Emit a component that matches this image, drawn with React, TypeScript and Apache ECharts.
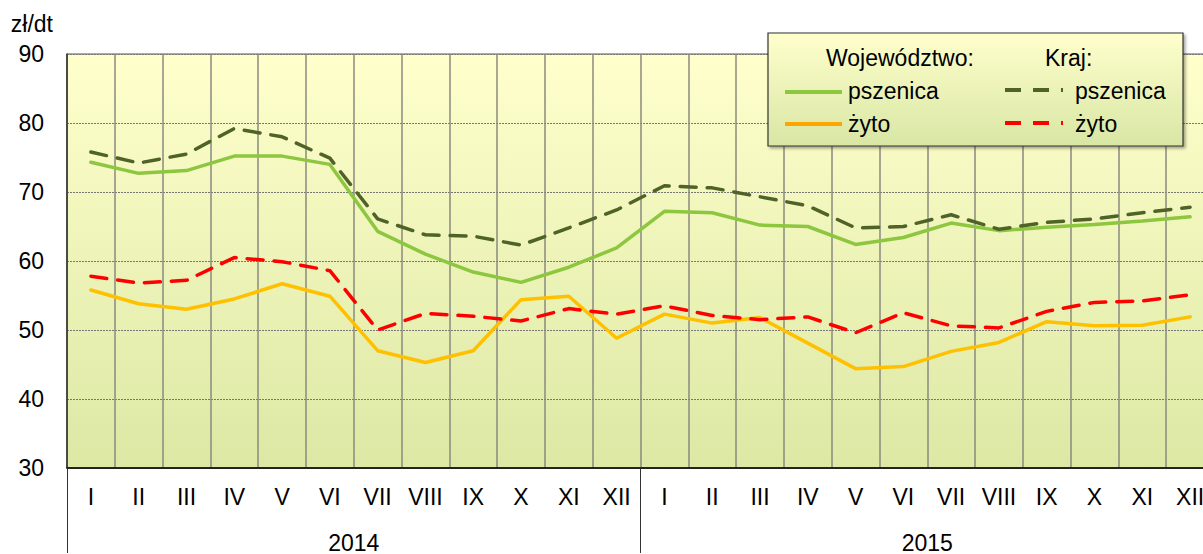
import React, { useEffect, useRef } from "react";
import * as echarts from "echarts";

const months = ["I", "II", "III", "IV", "V", "VI", "VII", "VIII", "IX", "X", "XI", "XII"];
const categories = [...months, ...months];
const years = ["2014", "2015"];
const yTicks = { min: 30, max: 90, interval: 10 };

const wojPszenica = [74.3, 72.7, 73.1, 75.2, 75.2, 74.0, 64.3, 61.0, 58.4, 56.9, 59.1, 61.9,
  67.2, 67.0, 65.2, 65.0, 62.4, 63.4, 65.5, 64.4, 64.9, 65.3, 65.8, 66.4];
const wojZyto = [55.8, 53.8, 53.0, 54.5, 56.7, 54.9, 47.0, 45.3, 47.0, 54.4, 54.9, 48.8,
  52.3, 51.0, 51.8, 48.1, 44.4, 44.7, 46.9, 48.2, 51.2, 50.6, 50.7, 51.9];
const krajPszenica = [75.8, 74.2, 75.5, 79.2, 78.0, 74.9, 66.1, 63.8, 63.6, 62.3, 64.8, 67.4,
  70.9, 70.6, 69.3, 68.0, 64.8, 65.0, 66.7, 64.6, 65.6, 66.1, 67.0, 67.8];
const krajZyto = [57.8, 56.8, 57.2, 60.5, 59.9, 58.6, 50.0, 52.4, 52.0, 51.3, 53.1, 52.3,
  53.5, 52.1, 51.5, 51.9, 49.6, 52.5, 50.6, 50.3, 52.7, 54.0, 54.2, 55.1];

const FONT = "Liberation Sans, Arial, sans-serif";
const C_GREEN = "#8DC63F";
const C_ORANGE = "#FFC000";
const C_DKGREEN = "#4F6228";
const C_RED = "#FF0000";
const DASH = [16, 11];

export default function App() {
  const ref = useRef<HTMLDivElement>(null);
  useEffect(() => {
    if (!ref.current) return;
    const chart = echarts.init(ref.current, undefined, { renderer: "svg" });
    const bgGrad = new echarts.graphic.LinearGradient(0, 0, 0, 1, [
      { offset: 0, color: "#FFFFCC" },
      { offset: 1, color: "#DCE8A4" },
    ]);
    const legGrad = new echarts.graphic.LinearGradient(0, 0, 0, 1, [
      { offset: 0, color: "#FFFFCC" },
      { offset: 1, color: "#D8E6A4" },
    ]);
    const txt = (x: number, y: number, text: string) => ({
      type: "text", x, y, z: 101,
      style: { text, font: `23px ${FONT}`, fill: "#000", textVerticalAlign: "middle", verticalAlign: "middle" },
    });
    const ln = (x1: number, x2: number, y: number, color: string, dash?: number[]) => ({
      type: "line", z: 101,
      shape: { x1, y1: y, x2, y2: y },
      style: { stroke: color, lineWidth: 4, lineDash: dash },
    });
    const line = (name: string, data: number[], color: string, dashed: boolean) => ({
      name, type: "line", data, symbol: "none", smooth: false,
      lineStyle: { color, width: 3.5, type: dashed ? DASH : "solid", cap: "round" },
      z: dashed ? 4 : 3,
    });
    chart.setOption({
      animation: false,
      grid: {
        left: 67, top: 54, width: 1147, height: 419, show: true,
        backgroundColor: bgGrad, borderColor: "#555", borderWidth: 1,
      },
      xAxis: [
        {
          type: "category", data: categories, boundaryGap: true, gridIndex: 0,
          axisLine: { show: true, lineStyle: { color: "#000", width: 1.5 } },
          axisTick: { show: false },
          axisLabel: { interval: 0, margin: 17, fontSize: 23, fontFamily: FONT, color: "#000" },
          splitLine: { show: true, interval: 0, lineStyle: { color: "#8a8a80", width: 1.5 } },
        },
        {
          type: "category", data: years, boundaryGap: true, gridIndex: 0, position: "bottom",
          axisLine: { show: false },
          axisTick: { show: true, interval: 0, length: 85, lineStyle: { color: "#333", width: 1 } },
          axisLabel: { interval: 0, margin: 63, fontSize: 23, fontFamily: FONT, color: "#000" },
          splitLine: { show: false },
        },
      ],
      yAxis: {
        type: "value", min: yTicks.min, max: yTicks.max, interval: yTicks.interval,
        name: "zł/dt", nameLocation: "end", nameGap: 30,
        nameTextStyle: { fontSize: 23, fontFamily: FONT, color: "#000", align: "right", verticalAlign: "middle", padding: [0, 14, 0, 0] },
        axisLine: { show: true, lineStyle: { color: "#333", width: 1.5 } },
        axisTick: { show: false },
        axisLabel: { margin: 23, fontSize: 23, fontFamily: FONT, color: "#000" },
        splitLine: { show: true, lineStyle: { color: "#777", width: 1, type: [2, 1] } },
      },
      series: [
        line("Województwo: pszenica", wojPszenica, C_GREEN, false),
        line("Województwo: żyto", wojZyto, C_ORANGE, false),
        line("Kraj: pszenica", krajPszenica, C_DKGREEN, true),
        line("Kraj: żyto", krajZyto, C_RED, true),
      ],
      graphic: [
        {
          type: "rect", z: 100,
          shape: { x: 768, y: 33, width: 415, height: 113 },
          style: {
            fill: legGrad, stroke: "#333", lineWidth: 1.2,
            shadowBlur: 3, shadowOffsetX: 2, shadowOffsetY: 2, shadowColor: "rgba(0,0,0,0.35)",
          },
        },
        txt(826, 58, "Województwo:"),
        txt(1045, 58, "Kraj:"),
        txt(848, 91, "pszenica"),
        txt(848, 124, "żyto"),
        txt(1075, 91, "pszenica"),
        txt(1075, 124, "żyto"),
        ln(785, 842, 92, C_GREEN),
        ln(785, 842, 124, "#FFA500"),
        ln(1005, 1063, 90, C_DKGREEN, [16, 12]),
        ln(1005, 1063, 123, C_RED, [16, 12]),
      ],
    });
    return () => chart.dispose();
  }, []);
  return (
    <div style={{ position: "fixed", left: 0, top: 0, width: 1203, height: 554, overflow: "hidden", background: "#fff" }}>
      <div ref={ref} style={{ width: 1220, height: 554 }} />
    </div>
  );
}
